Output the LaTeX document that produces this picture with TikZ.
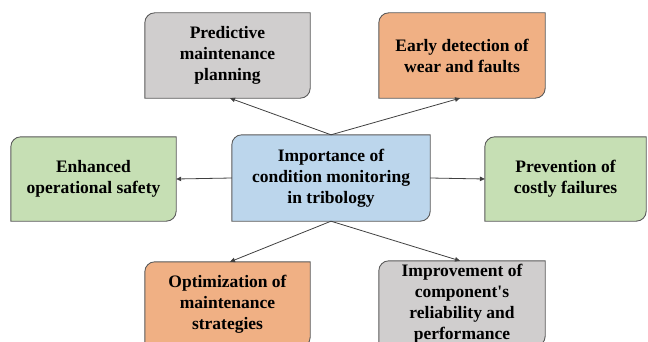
\documentclass[tikz,border=0pt]{standalone}
\usepackage{fontspec}
\setmainfont{Liberation Serif}[BoldFont={Liberation Serif Bold}]
\usetikzlibrary{arrows.meta}

\definecolor{boxgray}{HTML}{D0CECE}
\definecolor{boxorange}{HTML}{F0B084}
\definecolor{boxgreen}{HTML}{C6DFB4}
\definecolor{boxblue}{HTML}{BCD6EC}
\definecolor{edgegray}{HTML}{595959}
\definecolor{linkgray}{HTML}{404040}

\tikzset{
  topic/.style={rectangle, draw=none, inner sep=0pt, align=center,
    font=\bfseries\fontsize{17.5}{21}\selectfont},
  link/.style={draw=linkgray, line width=0.8pt,
    -{Triangle[length=5pt,width=4.5pt]}},
}

% box with rounded top-left and bottom-right corners, drawn behind a named node
\newcommand\diagframe[2]{%
  \begin{pgfonlayer}{background}
  \path[draw=edgegray, line width=0.9pt, fill=#2]
    (#1.south west) -- ([yshift=-10pt]#1.north west)
    arc[start angle=180, end angle=90, radius=10pt]
    -- (#1.north east) -- ([yshift=10pt]#1.south east)
    arc[start angle=0, end angle=-90, radius=10pt]
    -- cycle;
  \end{pgfonlayer}}

\pgfdeclarelayer{background}
\pgfsetlayers{background,main}

\begin{document}
\begin{tikzpicture}[x=1pt,y=1pt]
\useasboundingbox (0,0) rectangle (648,341);
\clip (0,0) rectangle (648,341);

\node[topic, minimum width=198pt, minimum height=86pt] (cent) at (331,163)
  {Importance of\\condition monitoring\\in tribology};
\node[topic, minimum width=165pt, minimum height=85pt] (pred) at (227.5,285.5)
  {Predictive\\maintenance\\planning};
\node[topic, minimum width=166pt, minimum height=85pt] (early) at (462,285.5)
  {Early detection of\\wear and faults};
\node[topic, minimum width=165pt, minimum height=84pt] (enh) at (93.5,162)
  {Enhanced\\operational safety};
\node[topic, minimum width=161pt, minimum height=84pt] (prev) at (565.5,162)
  {Prevention of\\costly failures};
\node[topic, minimum width=165pt, minimum height=85pt] (opt) at (227.5,36.5)
  {Optimization of\\maintenance\\strategies};
\node[topic, minimum width=166pt, minimum height=85pt] (imp) at (462,37.5)
  {Improvement of\\component\textquotesingle s\\reliability and\\performance};

\diagframe{cent}{boxblue}
\diagframe{pred}{boxgray}
\diagframe{early}{boxorange}
\diagframe{enh}{boxgreen}
\diagframe{prev}{boxgreen}
\diagframe{opt}{boxorange}
\diagframe{imp}{boxgray}

\draw[link] (cent.north) -- ([xshift=2.5pt]pred.south);
\draw[link] (cent.north) -- ([xshift=-2pt]early.south);
\draw[link] (cent.west) -- (enh.east);
\draw[link] (cent.east) -- (prev.west);
\draw[link] (cent.south) -- ([xshift=2.5pt]opt.north);
\draw[link] (cent.south) -- ([xshift=-2pt]imp.north);
\end{tikzpicture}
\end{document}
